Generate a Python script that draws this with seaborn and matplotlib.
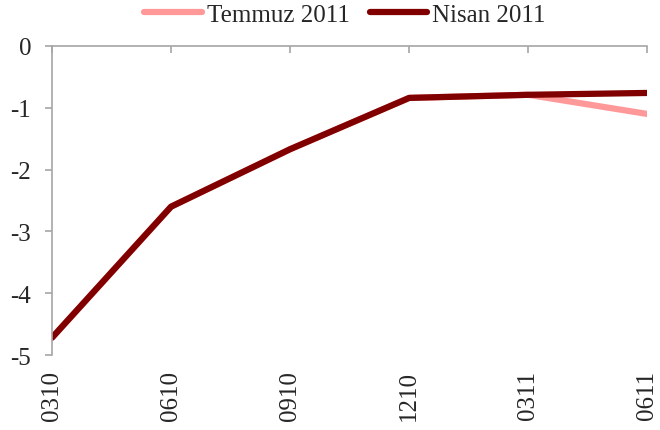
import pandas as pd
import matplotlib
matplotlib.use("Agg")
import matplotlib.pyplot as plt
import seaborn as sns

# chart data
periods = ["0310", "0610", "0910", "1210", "0311", "0611"]
temmuz_2011 = [-4.72, -2.60, -1.67, -0.84, -0.79, -1.10]
nisan_2011 = [-4.72, -2.60, -1.67, -0.84, -0.79, -0.76]
y_ticks = [0, -1, -2, -3, -4, -5]

sns.set_style("white")
plt.rcParams['font.family'] = ['Liberation Serif', 'DejaVu Serif']
plt.rcParams['axes.unicode_minus'] = False

df = pd.DataFrame({
    'period': periods * 2,
    'value': temmuz_2011 + nisan_2011,
    'series': ['Temmuz 2011'] * len(periods) + ['Nisan 2011'] * len(periods),
})

palette = {'Temmuz 2011': '#FF9999', 'Nisan 2011': '#800000'}

fig = plt.figure(figsize=(6.6, 4.31), dpi=100)
ax = fig.add_axes([0.0788, 0.174, 0.902, 0.717])

sns.lineplot(data=df, x='period', y='value', hue='series', palette=palette,
             sort=False, linewidth=4.5, ax=ax, legend=False,
             solid_capstyle='round')

ax.set_xlim(0, len(periods) - 1)
ax.set_ylim(-5, 0)
ax.set_yticks(y_ticks)
ax.set_xlabel('')
ax.set_ylabel('')

gray = '#A6A6A6'
for side in ['bottom', 'right']:
    ax.spines[side].set_visible(False)
for side in ['top', 'left']:
    ax.spines[side].set_color(gray)
    ax.spines[side].set_linewidth(1.2)

ax.tick_params(axis='x', bottom=False, top=True, direction='in', length=5,
               color=gray, width=1.2, labelbottom=True, labeltop=False,
               pad=11, labelsize=18, labelrotation=90)
ax.tick_params(axis='y', left=True, direction='out', length=5, color=gray,
               width=1.2, pad=10, labelsize=18)

handles = [plt.Line2D([], [], color=palette[s], linewidth=4.5,
                      solid_capstyle='round')
           for s in ['Temmuz 2011', 'Nisan 2011']]
fig.legend(handles, ['Temmuz 2011', 'Nisan 2011'], loc='center',
           bbox_to_anchor=(0.523, 0.964), ncol=2, frameon=False,
           fontsize=18, handlelength=2.3, handletextpad=0.2,
           columnspacing=0.8, borderpad=0)

fig.savefig('out.png', dpi=100)
